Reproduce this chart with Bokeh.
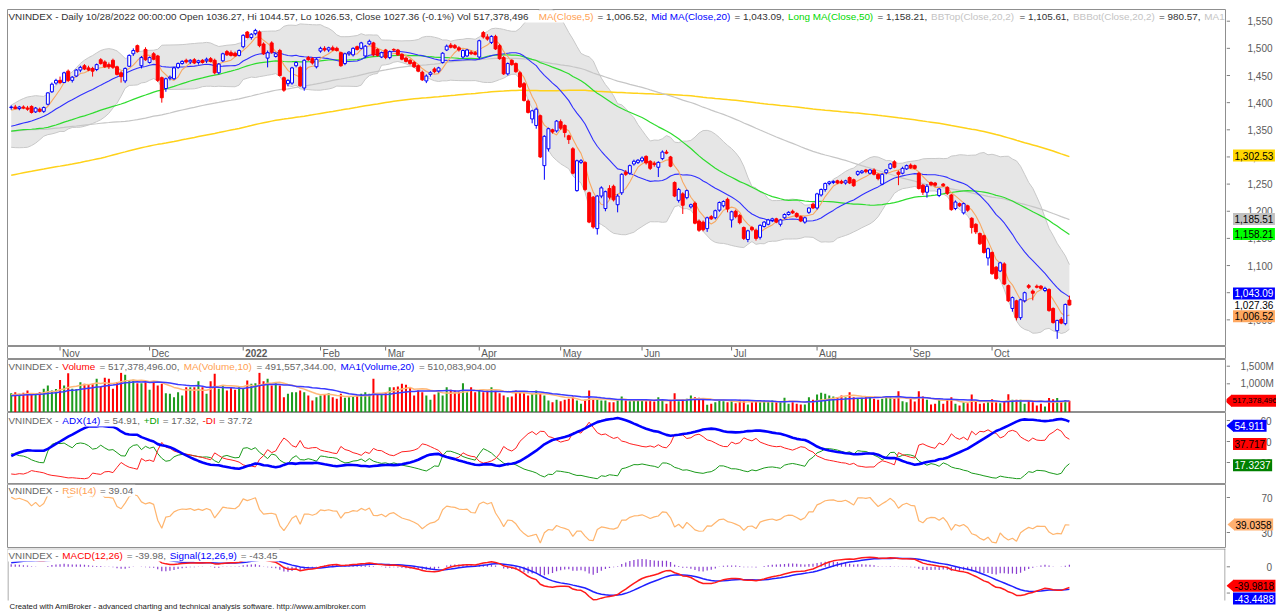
import numpy as np
from bokeh.plotting import figure
from bokeh.layouts import column, row
from bokeh.models import Range1d, Label
from bokeh.core.properties import value
from bokeh.embed import file_html
from bokeh.resources import INLINE

# ---------------------------------------------------------------- data
# closes before the first visible bar (Dec-2020 .. 13-Oct-2021), used only to seed the indicators
pre_close = [1067, 1074, 1083, 1090, 1097, 1100, 1103,
             1120, 1133, 1143, 1159, 1167, 1180, 1184, 1192, 1180, 1165, 1175, 1165, 1155, 1134, 1160, 1175, 1135, 1020, 1045, 1056,
             1070, 1089, 1096, 1115, 1127, 1121, 1142, 1155, 1158, 1164, 1175, 1178, 1168, 1179, 1168,
             1174, 1186, 1176, 1172, 1168, 1172, 1183, 1187, 1175, 1163, 1173, 1179, 1185, 1189, 1193, 1169, 1170, 1166, 1162, 1172, 1178, 1187, 1191,
             1196, 1206, 1222, 1232, 1240, 1249, 1240, 1246, 1235, 1221, 1224, 1238, 1249, 1260, 1244, 1219, 1226, 1236, 1247, 1239,
             1245, 1252, 1249, 1260, 1248, 1263, 1235, 1247, 1267, 1272, 1269, 1278, 1294, 1305, 1308, 1310, 1323, 1327, 1316, 1328,
             1340, 1355, 1363, 1375, 1370, 1347, 1353, 1370, 1376, 1349, 1362, 1382, 1378, 1375, 1391, 1375, 1386, 1379, 1386, 1410, 1380, 1408,
             1420, 1413, 1405, 1366, 1368, 1348, 1342, 1312, 1303, 1319, 1294, 1268, 1268, 1270, 1292, 1298, 1309, 1311, 1317, 1310, 1305, 1310,
             1332, 1335, 1341, 1343, 1357, 1367, 1359, 1357, 1339, 1359, 1352, 1327, 1335, 1306, 1320, 1330, 1327, 1334, 1345, 1362, 1331, 1331,
             1341, 1334, 1347, 1350, 1349, 1348, 1334, 1340, 1335, 1347, 1353, 1350, 1352, 1354, 1338, 1333, 1330, 1332, 1340, 1342,
             1343, 1352, 1360, 1355, 1368, 1380, 1384, 1386, 1388]
# highs / lows of the last 60 pre-history sessions (for the ADX warm-up)
pre_high = [1278, 1294, 1302, 1312, 1318, 1322, 1320, 1316, 1314, 1334, 1340, 1345, 1350, 1360, 1370, 1372, 1365, 1360, 1362, 1365,
            1355, 1340, 1336, 1325, 1335, 1338, 1338, 1350, 1366, 1364,
            1338, 1345, 1343, 1350, 1354, 1356, 1352, 1349, 1344, 1342, 1349, 1356, 1355, 1356, 1358, 1355, 1341, 1337, 1336, 1343, 1346,
            1347, 1355, 1364, 1362, 1370, 1383, 1388, 1390, 1392]
pre_low = [1255, 1268, 1285, 1296, 1302, 1306, 1304, 1298, 1296, 1312, 1326, 1330, 1335, 1342, 1355, 1352, 1348, 1335, 1338, 1348,
           1322, 1318, 1300, 1298, 1315, 1320, 1322, 1330, 1344, 1328,
           1318, 1330, 1331, 1338, 1343, 1342, 1342, 1330, 1331, 1328, 1334, 1342, 1344, 1344, 1347, 1336, 1326, 1324, 1326, 1330, 1336,
           1336, 1340, 1350, 1350, 1356, 1365, 1376, 1379, 1381]
pre_volume = [700, 650, 620, 600, 640, 690, 580, 620, 680, 650, 610, 700, 660, 720, 690, 640, 720, 700, 680, 650]

# visible bars: 14-Oct-2021 .. 28-Oct-2022 (261 sessions)
open_ = [1391, 1392, 1389, 1392, 1390, 1393, 1383, 1388, 1384, 1397,
         1420, 1436, 1441, 1437, 1458, 1441, 1449, 1460, 1468, 1464,
         1463, 1461, 1479, 1475, 1470, 1478, 1466, 1455, 1440, 1467,
         1490, 1505, 1468, 1498, 1474, 1490, 1486, 1446, 1426, 1445,
         1444, 1465, 1472, 1478, 1475, 1479, 1474, 1478, 1477, 1481,
         1478, 1455, 1477, 1494, 1492, 1491, 1487, 1503, 1530, 1520,
         1527, 1530, 1508, 1482, 1510, 1485, 1496, 1446, 1435, 1436,
         1468, 1465, 1427, 1483, 1481, 1466, 1495, 1500, 1497, 1501,
         1500, 1492, 1472, 1490, 1488, 1503, 1500, 1486, 1508, 1510,
         1498, 1484, 1497, 1483, 1498, 1497, 1489, 1482, 1478, 1474,
         1468, 1456, 1440, 1452, 1462, 1458, 1474, 1497, 1506, 1505,
         1501, 1484, 1486, 1493, 1492, 1484, 1529, 1521, 1511, 1522,
         1505, 1483, 1453, 1478, 1472, 1455, 1435, 1403, 1370, 1358,
         1376, 1284, 1315, 1350, 1348, 1365, 1358, 1339, 1315, 1238,
         1290, 1290, 1234, 1226, 1168, 1228, 1205, 1242, 1246, 1212,
         1234, 1272, 1270, 1287, 1290, 1293, 1301, 1292, 1288, 1281,
         1297, 1309, 1300, 1253, 1220, 1232, 1225, 1208, 1215, 1182,
         1180, 1168, 1190, 1188, 1202, 1210, 1222, 1184, 1200, 1192,
         1170, 1148, 1170, 1165, 1152, 1172, 1176, 1183, 1186, 1176,
         1188, 1194, 1200, 1196, 1190, 1180, 1198, 1213, 1206, 1230,
         1240, 1251, 1253, 1256, 1255, 1252, 1262, 1258, 1268, 1271,
         1276, 1270, 1276, 1268, 1250, 1271, 1279, 1291, 1272, 1270,
         1278, 1285, 1284, 1270, 1248, 1235, 1253, 1252, 1229, 1250,
         1244, 1230, 1205, 1214, 1197, 1210, 1187, 1176, 1159, 1155,
         1114, 1124, 1097, 1090, 1103, 1063, 1021, 1035, 1004, 1035,
         1063, 1053, 1062, 1062, 1054, 1056, 1021, 980, 1001, 993,
         1036.27]
high = [1395, 1396, 1394, 1395, 1394, 1395, 1392, 1391, 1393, 1419,
        1437, 1444, 1448, 1457, 1461, 1449, 1462, 1468, 1471, 1468,
        1466, 1472, 1482, 1478, 1474, 1481, 1468, 1458, 1465, 1489,
        1500, 1507, 1486, 1502, 1485, 1493, 1488, 1448, 1446, 1450,
        1466, 1474, 1478, 1481, 1480, 1482, 1479, 1480, 1483, 1484,
        1481, 1473, 1492, 1497, 1496, 1494, 1498, 1526, 1532, 1528,
        1536, 1533, 1511, 1496, 1513, 1492, 1499, 1448, 1443, 1466,
        1476, 1468, 1480, 1486, 1484, 1482, 1503, 1504, 1503, 1505,
        1503, 1494, 1492, 1495, 1502, 1505, 1512, 1506, 1516, 1512,
        1500, 1494, 1499, 1496, 1500, 1499, 1491, 1485, 1480, 1477,
        1470, 1459, 1452, 1458, 1465, 1466, 1493, 1507, 1510, 1508,
        1504, 1498, 1499, 1496, 1495, 1516, 1532, 1526, 1524, 1525,
        1508, 1486, 1474, 1480, 1474, 1458, 1438, 1406, 1387, 1391,
        1378, 1340, 1354, 1352, 1368, 1369, 1360, 1341, 1318, 1295,
        1296, 1292, 1236, 1228, 1230, 1246, 1238, 1248, 1249, 1232,
        1270, 1276, 1286, 1295, 1296, 1301, 1303, 1294, 1292, 1292,
        1312, 1313, 1302, 1255, 1243, 1235, 1240, 1214, 1218, 1185,
        1183, 1190, 1193, 1203, 1218, 1220, 1225, 1201, 1203, 1195,
        1172, 1166, 1173, 1168, 1176, 1182, 1186, 1188, 1188, 1186,
        1196, 1200, 1203, 1198, 1192, 1190, 1207, 1216, 1234, 1242,
        1253, 1256, 1257, 1258, 1258, 1258, 1264, 1260, 1275, 1276,
        1278, 1278, 1279, 1270, 1270, 1277, 1289, 1294, 1275, 1282,
        1286, 1288, 1286, 1272, 1250, 1250, 1255, 1254, 1243, 1252,
        1246, 1232, 1220, 1216, 1216, 1212, 1189, 1178, 1161, 1157,
        1133, 1126, 1099, 1107, 1106, 1065, 1043, 1037, 1039, 1052,
        1066, 1056, 1065, 1064, 1061, 1058, 1023, 1000, 1005, 1030,
        1044.57]
low = [1387, 1388, 1386, 1388, 1385, 1380, 1381, 1382, 1381, 1395,
       1418, 1433, 1434, 1436, 1438, 1437, 1447, 1456, 1460, 1458,
       1448, 1458, 1470, 1464, 1462, 1462, 1450, 1437, 1436, 1466,
       1486, 1492, 1463, 1477, 1472, 1478, 1438, 1400, 1420, 1441,
       1442, 1462, 1470, 1472, 1471, 1471, 1470, 1472, 1473, 1474,
       1452, 1452, 1475, 1486, 1485, 1485, 1485, 1500, 1518, 1516,
       1524, 1502, 1488, 1465, 1490, 1483, 1448, 1420, 1430, 1433,
       1465, 1429, 1422, 1477, 1470, 1463, 1492, 1494, 1493, 1495,
       1494, 1466, 1469, 1486, 1485, 1496, 1498, 1482, 1506, 1485,
       1485, 1482, 1480, 1480, 1494, 1486, 1478, 1474, 1470, 1464,
       1456, 1440, 1436, 1448, 1454, 1455, 1472, 1495, 1500, 1499,
       1494, 1481, 1484, 1488, 1487, 1480, 1518, 1514, 1508, 1497,
       1479, 1451, 1450, 1468, 1455, 1427, 1402, 1380, 1362, 1352,
       1298, 1258, 1310, 1343, 1345, 1350, 1336, 1324, 1268, 1236,
       1287, 1237, 1178, 1168, 1157, 1224, 1200, 1222, 1218, 1198,
       1230, 1265, 1267, 1284, 1287, 1290, 1286, 1276, 1282, 1263,
       1294, 1305, 1281, 1226, 1216, 1195, 1222, 1205, 1176, 1162,
       1163, 1162, 1184, 1185, 1199, 1207, 1198, 1170, 1187, 1176,
       1147, 1143, 1163, 1146, 1148, 1170, 1174, 1180, 1178, 1172,
       1186, 1192, 1195, 1188, 1180, 1177, 1195, 1204, 1203, 1227,
       1236, 1248, 1250, 1250, 1250, 1249, 1250, 1245, 1265, 1269,
       1270, 1268, 1266, 1257, 1248, 1268, 1277, 1279, 1248, 1268,
       1276, 1278, 1277, 1240, 1230, 1225, 1246, 1245, 1226, 1245,
       1230, 1201, 1202, 1208, 1194, 1199, 1159, 1158, 1138, 1122,
       1100, 1083, 1074, 1088, 1064, 1033, 1015, 999, 1000, 1032,
       1057, 1036, 1058, 1056, 1051, 1015, 993, 965, 992, 990,
       1026.53]
close = [1392, 1389, 1392, 1390, 1388, 1382, 1390, 1384, 1391, 1418,
         1434, 1441, 1437, 1455, 1441, 1447, 1460, 1465, 1462, 1460,
         1458, 1470, 1472, 1466, 1466, 1465, 1452, 1448, 1463, 1487,
         1496, 1494, 1483, 1479, 1483, 1480, 1441, 1409, 1444, 1447,
         1464, 1472, 1476, 1475, 1478, 1473, 1477, 1474, 1480, 1476,
         1455, 1471, 1490, 1488, 1487, 1486, 1496, 1524, 1520, 1526,
         1533, 1505, 1490, 1492, 1493, 1490, 1450, 1423, 1441, 1464,
         1474, 1431, 1478, 1479, 1473, 1480, 1500, 1497, 1501, 1497,
         1496, 1468, 1490, 1493, 1500, 1498, 1510, 1504, 1513, 1488,
         1487, 1492, 1483, 1494, 1497, 1488, 1480, 1476, 1472, 1466,
         1458, 1442, 1449, 1455, 1457, 1464, 1491, 1504, 1502, 1501,
         1497, 1496, 1497, 1490, 1489, 1514, 1521, 1517, 1522, 1499,
         1481, 1453, 1472, 1470, 1457, 1429, 1404, 1382, 1385, 1388,
         1300, 1338, 1352, 1346, 1366, 1353, 1345, 1332, 1270, 1293,
         1293, 1240, 1180, 1171, 1228, 1243, 1236, 1226, 1221, 1228,
         1268, 1268, 1284, 1292, 1294, 1298, 1289, 1279, 1286, 1290,
         1309, 1307, 1283, 1228, 1240, 1211, 1238, 1212, 1178, 1165,
         1166, 1188, 1186, 1201, 1216, 1218, 1204, 1199, 1190, 1179,
         1150, 1164, 1166, 1150, 1174, 1180, 1184, 1186, 1180, 1184,
         1194, 1198, 1197, 1190, 1182, 1188, 1206, 1206, 1232, 1240,
         1251, 1254, 1255, 1252, 1252, 1256, 1252, 1247, 1273, 1274,
         1273, 1276, 1268, 1260, 1268, 1276, 1287, 1281, 1268, 1279,
         1284, 1280, 1279, 1242, 1235, 1246, 1249, 1248, 1241, 1247,
         1233, 1203, 1217, 1210, 1214, 1202, 1170, 1162, 1140, 1124,
         1131, 1085, 1076, 1105, 1066, 1035, 1041, 1004, 1037, 1050,
         1060, 1049, 1060, 1058, 1058, 1017, 995, 999, 994, 1028.4,
         1027.36]
volume_m = [735, 760, 720, 745, 811, 700, 690, 760, 860, 950,
            810, 850, 1110, 950, 1300, 860, 850, 1046, 1000, 990,
            1000, 1141, 923, 1169, 1141, 857, 1046, 1311, 1255, 1094,
            1113, 1018, 1018, 1046, 828, 1046, 952, 999, 734, 715,
            620, 762, 667, 904, 904, 904, 1075, 904, 715, 1075,
            1283, 857, 952, 810, 904, 828, 904, 857, 1094, 999,
            1018, 1311, 1075, 1141, 952, 1018, 952, 620, 715, 762,
            762, 810, 762, 667, 525, 620, 667, 696, 734, 620,
            573, 715, 601, 620, 639, 667, 715, 762, 715, 1141,
            715, 715, 762, 904, 904, 923, 999, 970, 904, 667,
            810, 762, 667, 544, 696, 762, 667, 904, 828, 810,
            781, 1018, 762, 904, 762, 810, 762, 810, 904, 781,
            734, 667, 620, 639, 810, 762, 734, 667, 715, 810,
            734, 667, 525, 478, 544, 506, 544, 573, 639, 525,
            431, 544, 810, 544, 544, 525, 525, 478, 478, 525,
            639, 525, 506, 525, 525, 525, 506, 525, 497, 620,
            525, 431, 544, 734, 506, 544, 573, 667, 620, 601,
            573, 402, 431, 478, 525, 506, 478, 525, 450, 544,
            525, 412, 478, 497, 478, 525, 497, 525, 478, 506,
            601, 431, 478, 431, 412, 412, 620, 544, 696, 743,
            715, 667, 639, 620, 667, 620, 762, 620, 573, 601,
            639, 601, 573, 544, 573, 601, 620, 573, 791, 506,
            478, 573, 497, 791, 639, 544, 412, 431, 544, 431,
            544, 620, 431, 383, 478, 450, 696, 506, 431, 450,
            478, 560, 478, 450, 506, 700, 544, 544, 544, 431,
            525, 478, 380, 431, 355, 600, 560, 600, 480, 540,
            517.378496]

month_labels = ["Nov", "Dec", "2022", "Feb", "Mar", "Apr", "May", "Jun", "Jul", "Aug", "Sep", "Oct"]
month_first_bar = [12, 34, 57, 76, 92, 115, 135, 155, 177, 198, 221, 241]
price_ticks = [1000, 1050, 1100, 1150, 1200, 1250, 1300, 1350, 1400, 1450, 1500, 1550]
price_tick_labels = ["1,000", "1,050", "1,100", "1,150", "1,200", "1,250", "1,300", "1,350", "1,400", "1,450", "1,500", "1,550"]
volume_ticks = [500, 1000, 1500]
volume_tick_labels = ["500M", "1,000M", "1,500M"]
adx_ticks = [20, 40, 60]
adx_tick_labels = ["20", "40", "60"]
rsi_ticks = [30, 70]
rsi_tick_labels = ["30", "70"]
macd_ticks = [-50, 0]
macd_tick_labels = ["", "0"]

main_title = [("VNINDEX - Daily 10/28/2022 00:00:00 Open 1036.27, Hi 1044.57, Lo 1026.53, Close 1027.36 (-0.1%) Vol 517,378,496 ", "base"),
              ("MA(Close,5)", "#FFA050"), (" = 1,006.52, ", "base"),
              ("Mid MA(Close,20)", "#0000FF"), (" = 1,043.09, ", "base"),
              ("Long MA(Close,50)", "#00D800"), (" = 1,158.21, ", "base"),
              ("BBTop(Close,20,2)", "#C4C4C4"), (" = 1,105.61, ", "base"),
              ("BBBot(Close,20,2)", "#C4C4C4"), (" = 980.57, ", "base"),
              ("MA1", "#C4C4C4")]
vol_title = [("VNINDEX - ", "base"), ("Volume", "#FF0000"), (" = 517,378,496.00, ", "base"),
             ("MA(Volume,10)", "#FFA050"), (" = 491,557,344.00, ", "base"),
             ("MA1(Volume,20)", "#0000FF"), (" = 510,083,904.00", "base")]
adx_title = [("VNINDEX - ", "base"), ("ADX(14)", "#0000FF"), (" = 54.91, ", "base"),
             ("+DI", "#00A000"), (" = 17.32, ", "base"), ("-DI", "#FF0000"), (" = 37.72", "base")]
rsi_title = [("VNINDEX - ", "base"), ("RSI(14)", "#FFA050"), (" = 39.04", "base")]
macd_title = [("VNINDEX - ", "base"), ("MACD(12,26)", "#FF0000"), (" = -39.98, ", "base"),
              ("Signal(12,26,9)", "#0000FF"), (" = -43.45", "base")]

# last-value tags: value, text, background, text colour, vertical nudge (px, up), arrow
main_tags = [(1302.53, "1,302.53", "#FFD700", "black", 0, False), (1185.51, "1,185.51", "#C0C0C0", "black", 0, False),
             (1158.21, "1,158.21", "#00FF00", "black", 0, False), (1043.09, "1,043.09", "#0000FF", "white", 3, False),
             (1027.36, "1,027.36", None, "black", 0, False), (1006.52, "1,006.52", "#FFA860", "black", 0, False)]
vol_tags = [(517.378496, "517,378,496", "#FF0000", "black", 0, True)]
adx_tags = [(54.911, "54.911", "#0000FF", "white", 0, True), (37.717, "37.717", "#FF0000", "black", 0, False),
            (17.3237, "17.3237", "#008000", "white", 0, False)]
rsi_tags = [(39.0358, "39.0358", "#FFB070", "black", 0, True)]
macd_tags = [(-39.9818, "-39.9818", "#FF0000", "black", 2, True), (-43.4488, "-43.4488", "#0000FF", "white", -9, False)]

footer_text = "Created with AmiBroker - advanced charting and technical analysis software. http://www.amibroker.com"

NPRE_HL = 60
assert len(pre_close) == 200 and len(pre_high) == NPRE_HL and len(pre_low) == NPRE_HL
for arr in (open_, high, low, close, volume_m):
    assert len(arr) == 261, len(arr)

# ---------------------------------------------------------------- indicators
n = len(close)
idx = np.arange(n)
allc = np.array(pre_close + close, float)


def sma(a, k):
    return np.array([a[i - k + 1:i + 1].mean() if i >= k - 1 else np.nan for i in range(len(a))])


def sstd(a, k):
    return np.array([a[i - k + 1:i + 1].std() if i >= k - 1 else np.nan for i in range(len(a))])


def wilder(a, k):
    out = np.empty(len(a))
    out[0] = a[0]
    for i in range(1, len(a)):
        out[i] = out[i - 1] + (a[i] - out[i - 1]) / k
    return out


def wilder_seed(a, k, start):
    out = np.full(len(a), np.nan)
    s0 = start + k - 1
    out[s0] = np.mean(a[start:start + k])
    for i in range(s0 + 1, len(a)):
        out[i] = out[i - 1] + (a[i] - out[i - 1]) / k
    return out


def ema(a, k):
    al = 2.0 / (k + 1)
    out = np.empty(len(a))
    out[0] = a[0]
    for i in range(1, len(a)):
        out[i] = out[i - 1] + al * (a[i] - out[i - 1])
    return out


ma5 = sma(allc, 5)[-n:]
ma20 = sma(allc, 20)[-n:]
ma50 = sma(allc, 50)[-n:]
ma100 = sma(allc, 100)[-n:]
ma200 = sma(allc, 200)[-n:]
sd20 = sstd(allc, 20)[-n:]
bb_top = ma20 + 2 * sd20
bb_bot = ma20 - 2 * sd20

allv = np.array(pre_volume + volume_m, float)
vma10 = sma(allv, 10)[-n:]
vma20 = sma(allv, 20)[-n:]

d = np.diff(allc, prepend=allc[0])
rsi = 100 - 100 / (1 + wilder(np.where(d > 0, d, 0.0), 14) / np.maximum(wilder(np.where(d < 0, -d, 0.0), 14), 1e-9))
rsi = rsi[-n:]

macd_all = ema(allc, 12) - ema(allc, 26)
sig_all = ema(macd_all, 9)
macd = macd_all[-n:]
signal = sig_all[-n:]
hist = macd - signal

hh = np.array(pre_high + high, float)
ll = np.array(pre_low + low, float)
cc = np.array(pre_close[-NPRE_HL:] + close, float)
pc = np.r_[cc[0], cc[:-1]]
ph = np.r_[hh[0], hh[:-1]]
pl = np.r_[ll[0], ll[:-1]]
tr = np.maximum.reduce([hh - ll, np.abs(hh - pc), np.abs(ll - pc)])
upm = hh - ph
dnm = pl - ll
pdm = np.where((upm > dnm) & (upm > 0), upm, 0.0)
mdm = np.where((dnm > upm) & (dnm > 0), dnm, 0.0)
atr = wilder_seed(tr, 14, 1)
pdi_all = 100 * wilder_seed(pdm, 14, 1) / atr
mdi_all = 100 * wilder_seed(mdm, 14, 1) / atr
dx = 100 * np.abs(pdi_all - mdi_all) / np.maximum(pdi_all + mdi_all, 1e-9)
adx = wilder_seed(dx, 14, 14)[-n:]
pdi = pdi_all[-n:]
mdi = mdi_all[-n:]

o = np.array(open_, float)
h = np.array(high, float)
lo = np.array(low, float)
c = np.array(close, float)
up = c >= o

# ---------------------------------------------------------------- layout helpers
FONT = "Liberation Sans"
LEFT = 7
FRAME_W = 1218
AX_W = 50
BAR0_PX = 10.7
BAR_PX = 4.07
TITLE_SIZE = 9.9


def px2x(px):
    return (px - BAR0_PX) / BAR_PX


xr = Range1d(px2x(LEFT), px2x(LEFT + FRAME_W))

AW = {' ': 278, '!': 278, '%': 889, '(': 333, ')': 333, ',': 278, '-': 333, '.': 278, '/': 278, ':': 278, '=': 584, '+': 584}
for ch in '0123456789':
    AW[ch] = 556
AW.update(dict(A=667, B=667, C=722, D=722, E=667, F=611, G=778, H=722, I=278, J=500, K=667, L=556, M=833, N=722, O=778,
               P=667, Q=778, R=722, S=667, T=611, U=722, V=667, W=944, X=667, Y=667, Z=611))
AW.update(dict(a=556, b=556, c=500, d=556, e=556, f=278, g=556, h=556, i=222, j=222, k=500, l=222, m=833, n=556, o=556,
               p=556, q=556, r=333, s=500, t=278, u=556, v=500, w=722, x=500, y=500, z=500))


def text_w(s, size):
    return sum(AW.get(ch, 556) for ch in s) * size / 1000.0


def bare(fig):
    fig.grid.visible = False
    return fig


class Panel:
    def __init__(self, top_px, height, ymin, ymax, top_pad=0, outline=True):
        self.top, self.hgt, self.ymin, self.ymax, self.pad = top_px, height, ymin, ymax, top_pad
        self.upp = (ymax - ymin) / height
        self.yr = Range1d(ymin, ymax)
        p = figure(frame_width=FRAME_W, frame_height=height, x_range=xr, y_range=self.yr,
                   x_axis_location=None, y_axis_location=None, toolbar_location=None, output_backend="svg",
                   min_border_left=LEFT, min_border_right=1, min_border_top=top_pad, min_border_bottom=0,
                   background_fill_color="white", border_fill_color="white")
        bare(p)
        p.outline_line_color = "#8f8f8f" if outline else None
        p.outline_line_width = 1
        self.p = p

    def y(self, py):
        return self.ymax - (py - self.top) * self.upp

    def title(self, segs, py, base):
        total = sum(text_w(txt, 10) + 0.5 for txt, _ in segs)
        # white strip behind the title text (the indicator lines pass underneath it)
        self.p.quad(left=[px2x(7.5)], right=[px2x(min(8 + total + 1, 1224.5))], top=[self.y(py - 6)],
                    bottom=[self.y(py + 6)], fill_color="white", line_color=None)
        xpx = 8.0
        for txt, col in segs:
            col = base if col == "base" else col
            lead = len(txt) - len(txt.lstrip())
            s_ = txt.strip()
            if s_:
                self.p.add_layout(Label(x=px2x(xpx + text_w(txt[:lead], 10)), y=self.y(py), text=s_,
                                        text_color=col, text_font=FONT, text_font_size=f"{TITLE_SIZE}px",
                                        text_baseline="middle", text_align="left"))
            xpx += text_w(txt, 10) + 0.5

    def axis(self, ticks, labels, label_left, tags, tag_left=1234.0, tag_size=10):
        a = figure(frame_width=AX_W, frame_height=self.hgt, x_range=Range1d(1226, 1226 + AX_W), y_range=self.yr,
                   x_axis_location=None, y_axis_location=None, toolbar_location=None, output_backend="svg",
                   min_border_left=0, min_border_right=0, min_border_top=self.pad, min_border_bottom=0,
                   background_fill_color="white", border_fill_color="white")
        bare(a)
        a.outline_line_color = None
        a.segment(x0=[1226] * len(ticks), y0=ticks, x1=[1229.5] * len(ticks), y1=ticks,
                  line_color="#808080", line_width=1)
        a.text(x=[label_left] * len(ticks), y=ticks, text=labels, text_font=value(FONT), text_font_size="10px",
               text_color="#5a5a5a", text_baseline="middle", text_align="left")
        hh_ = 6.0 * self.upp
        for val, txt, bg, fg, nudge, arrow in tags:
            yc = val + nudge * self.upp
            w = text_w(txt, tag_size)
            bl, br = tag_left - 1.5, tag_left + w + 1.5
            if bg:
                a.quad(left=[bl], right=[br], top=[yc + hh_], bottom=[yc - hh_], fill_color=bg, line_color=None)
                if arrow:
                    a.patch(x=[bl + 0.5, bl - 6.5, bl + 0.5], y=[yc + hh_, yc, yc - hh_], fill_color=bg,
                            line_color=None)
            a.text(x=[tag_left], y=[yc], text=[txt], text_font=value(FONT), text_font_size=f"{tag_size}px",
                   text_color=fg, text_baseline="middle", text_align="left")
        return a


# ---------------------------------------------------------------- main price panel
PX_PER_PT = 0.543
Y1550 = 20.7
main_top, main_h = 9, 337
m_ymax = 1550 + (Y1550 - main_top) / PX_PER_PT
m_ymin = 1550 - (main_top + main_h - Y1550) / PX_PER_PT
pm = Panel(main_top, main_h, m_ymin, m_ymax, top_pad=main_top)
p = pm.p
p.varea(x=idx, y1=bb_bot, y2=bb_top, fill_color="#E6E6E6")
p.line(idx, bb_top, line_color="#C8C8C8", line_width=1)
p.line(idx, bb_bot, line_color="#C8C8C8", line_width=1)
p.line(idx, ma200, line_color="#FFD21A", line_width=1.5)
p.line(idx, ma100, line_color="#C6C6C6", line_width=1.2)
p.line(idx, ma50, line_color="#2EDC2E", line_width=1.2)
p.line(idx, ma20, line_color="#3030FF", line_width=1.1)
p.line(idx, ma5, line_color="#F7A862", line_width=1.1)
ccol = np.where(up, "#0000FF", "#FF0000")
p.segment(x0=idx, y0=lo, x1=idx, y1=h, line_color=ccol, line_width=1)
p.vbar(x=idx, width=0.72, top=np.maximum(o, c), bottom=np.minimum(o, c),
       fill_color=np.where(up, "white", "#FF0000"), line_color=ccol, line_width=1)
pm.title(main_title, 16, "#333333")
am = pm.axis(price_ticks, price_tick_labels, 1247, main_tags, tag_left=1234.0)

# ---------------------------------------------------------------- date strip
s = figure(frame_width=FRAME_W, frame_height=13, x_range=xr, y_range=Range1d(0, 13),
           x_axis_location=None, y_axis_location=None, toolbar_location=None, output_backend="svg",
           min_border_left=LEFT, min_border_right=1 + AX_W, min_border_top=0, min_border_bottom=0,
           background_fill_color="white", border_fill_color="white")
bare(s)
s.outline_line_color = "#8f8f8f"
s.segment(x0=month_first_bar, y0=13, x1=month_first_bar, y1=9, line_color="#707070", line_width=1)
s.text(x=month_first_bar, y=6.5, text=month_labels, x_offset=2, text_baseline="middle", text_align="left",
       text_font=value(FONT), text_font_size="10px", text_color="#5a5a5a",
       text_font_style=["bold" if m == "2022" else "normal" for m in month_labels])

# ---------------------------------------------------------------- volume panel
V_PX = 0.0352
vol_top, vol_h = 359, 53
v_ymax = 1000 + (383.3 - vol_top) / V_PX
v_ymin = 1000 - (vol_top + vol_h - 383.3) / V_PX
pv = Panel(vol_top, vol_h, v_ymin, v_ymax)
q = pv.p
q.vbar(x=idx, width=0.5, top=volume_m, bottom=v_ymin, fill_color=np.where(up, "#1E9B1E", "#FF0000"),
       line_color=None)
q.line(idx, vma10, line_color="#FFB878", line_width=1.5)
q.line(idx, vma20, line_color="#3C3CFF", line_width=1.5)
pv.title(vol_title, 366, "#666666")
av = pv.axis(volume_ticks, volume_tick_labels, 1240, vol_tags, tag_left=1232.0, tag_size=8)

# ---------------------------------------------------------------- ADX panel
ADX_PX = 1.05
adx_top, adx_h = 412, 72
a_ymax = (483 - adx_top) / ADX_PX
a_ymin = (483 - (adx_top + adx_h)) / ADX_PX
pa = Panel(adx_top, adx_h, a_ymin, a_ymax)
r = pa.p
r.line(idx, pdi, line_color="#1A9A1A", line_width=1)
r.line(idx, mdi, line_color="#FF2020", line_width=1)
r.line(idx, adx, line_color="#0000FF", line_width=2.6)
pa.title(adx_title, 420, "#666666")
aa = pa.axis(adx_ticks, adx_tick_labels, 1260, adx_tags, tag_left=1234.0)

# ---------------------------------------------------------------- RSI panel
RSI_PX = 0.875
rsi_top, rsi_h = 484, 64
r_ymax = 70 + (497 - rsi_top) / RSI_PX
r_ymin = 30 - (rsi_top + rsi_h - 532) / RSI_PX
pr = Panel(rsi_top, rsi_h, r_ymin, r_ymax)
t = pr.p
t.line(idx, rsi, line_color="#FFB56E", line_width=1.2)
pr.title(rsi_title, 490, "#666666")
ar = pr.axis(rsi_ticks, rsi_tick_labels, 1261, rsi_tags, tag_left=1235.0)

# ---------------------------------------------------------------- MACD panel (also holds the footer line)
MACD_PX = 0.525
macd_top, macd_h = 548, 63
k_ymax = (566.3 - macd_top) / MACD_PX
k_ymin = -(macd_top + macd_h - 566.3) / MACD_PX
pk = Panel(macd_top, macd_h, k_ymin, k_ymax, outline=False)
u = pk.p
y_600 = pk.y(600)
u.segment(x0=[px2x(7.5), px2x(1224.5), px2x(7)], y0=[y_600, y_600, pk.y(548.5)],
          x1=[px2x(7.5), px2x(1224.5), px2x(1225)], y1=[k_ymax, k_ymax, pk.y(548.5)],
          line_color="#8f8f8f", line_width=1)
u.vbar(x=idx, width=0.3, top=hist, bottom=0, fill_color="#8A3FD0", line_color=None)
u.line(idx, signal, line_color="#2020FF", line_width=1.5)
u.line(idx, macd, line_color="#FF1A1A", line_width=1.5)
u.text(x=[px2x(9)], y=[pk.y(606)], text=[footer_text], text_font=value(FONT), text_font_size="7.8px",
       text_color="#222222", text_baseline="middle", text_align="left")
pk.title(macd_title, 555, "#666666")
ak = pk.axis(macd_ticks, macd_tick_labels, 1266, macd_tags, tag_left=1234.0)

layout = column(row(p, am, spacing=0), s, row(q, av, spacing=0), row(r, aa, spacing=0),
                row(t, ar, spacing=0), row(u, ak, spacing=0), spacing=0)
open("out.html", "w").write(file_html(layout, INLINE))
